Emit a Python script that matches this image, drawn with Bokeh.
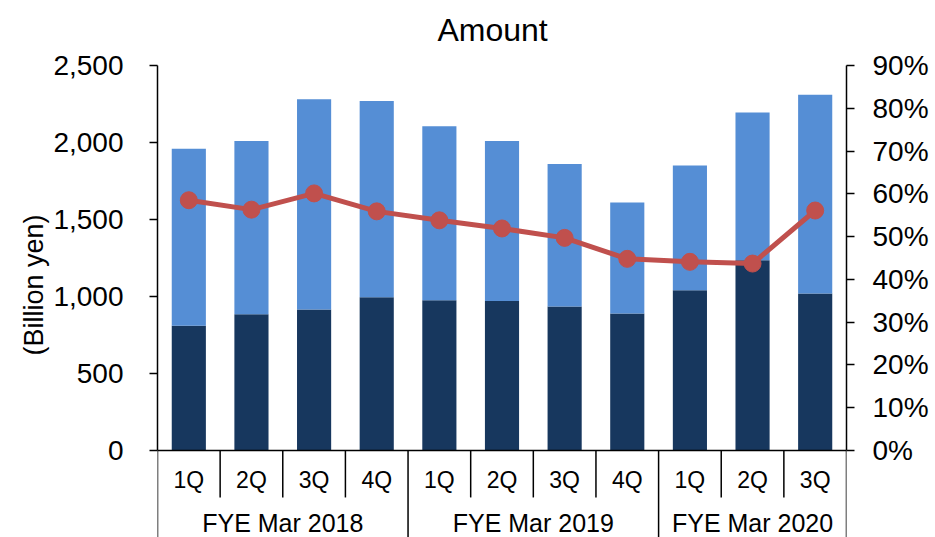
from bokeh.plotting import figure
from bokeh.models import (Range1d, LinearAxis, FixedTicker, NumeralTickFormatter,
                          PrintfTickFormatter, ColumnDataSource, Title)
from bokeh.core.properties import value
from bokeh.embed import file_html
from bokeh.resources import INLINE

# ---- data -----------------------------------------------------------------
quarters = ["1Q", "2Q", "3Q", "4Q", "1Q", "2Q", "3Q", "4Q", "1Q", "2Q", "3Q"]
fiscal_years = ["FYE Mar 2018", "FYE Mar 2019", "FYE Mar 2020"]
quarters_per_year = [4, 4, 3]

# billion yen, stacked: dark segment at the bottom, light segment on top
dark_amount = [810, 885, 915, 995, 975, 970, 935, 890, 1040, 1235, 1020]
light_amount = [1150, 1125, 1365, 1275, 1130, 1040, 925, 720, 810, 960, 1290]
# share in percent (right axis)
share_pct = [58.5, 56.3, 60.1, 55.9, 53.8, 51.9, 49.7, 44.8, 44.1, 43.7, 56.1]

amount_ticks = [0, 500, 1000, 1500, 2000, 2500]
share_ticks = [0, 10, 20, 30, 40, 50, 60, 70, 80, 90]

# ---- styling ----------------------------------------------------------------
FONT = "Liberation Sans"
DARK = "#17375E"
LIGHT = "#558ED5"
RED = "#C0504D"

AMOUNT_MAX = 2500
AMOUNT_TOP = 2922          # headroom above the axis for the chart title
AMOUNT_MIN = -565          # room below zero for the category labels
SHARE_MAX = 90
SHARE_TOP = AMOUNT_TOP / AMOUNT_MAX * SHARE_MAX
SHARE_MIN = AMOUNT_MIN / AMOUNT_MAX * SHARE_MAX

n = len(quarters)
xs = list(range(n))
totals = [d + l for d, l in zip(dark_amount, light_amount)]

src = ColumnDataSource(dict(x=xs, dark=dark_amount, light=light_amount,
                            total=totals, share=share_pct, q=quarters))

p = figure(width=935, height=537, output_backend="svg", toolbar_location=None,
           x_range=Range1d(-0.5, n - 0.5),
           y_range=Range1d(AMOUNT_MIN, AMOUNT_TOP),
           x_axis_location=None,
           min_border_left=157, min_border_right=89,
           min_border_top=0, min_border_bottom=0)
p.title.visible = False
p.outline_line_color = None
p.grid.visible = False
p.background_fill_color = "white"
p.border_fill_color = "white"


def style_axis(ax, standoff):
    ax.major_label_text_font = FONT
    ax.major_label_text_font_size = "28px"
    ax.major_label_text_color = "black"
    ax.axis_line_color = "black"
    ax.axis_line_width = 1.5
    ax.major_tick_line_color = "black"
    ax.major_tick_line_width = 1.5
    ax.major_tick_out = 8
    ax.major_tick_in = 0
    ax.minor_tick_line_color = None
    ax.major_label_standoff = standoff


# left axis
yax = p.yaxis[0]
yax.ticker = FixedTicker(ticks=amount_ticks)
yax.bounds = (0, AMOUNT_MAX)
yax.formatter = NumeralTickFormatter(format="0,0")
style_axis(yax, 26)

# unit caption beside the left axis, a little below the axis middle
p.add_layout(Title(text="(Billion yen)", align="left", offset=182, standoff=3,
                   text_font=FONT, text_font_size="27px", text_font_style="normal",
                   text_color="black"), "left")

# right axis
p.extra_y_ranges = {"share": Range1d(SHARE_MIN, SHARE_TOP)}
rax = LinearAxis(y_range_name="share", ticker=FixedTicker(ticks=share_ticks),
                 bounds=(0, SHARE_MAX), formatter=PrintfTickFormatter(format="%d%%"))
style_axis(rax, 18)
p.add_layout(rax, "right")

# chart title, in the headroom above the axes
p.text(x=[4.85], y=[2728], text=["Amount"],
       text_font=value(FONT), text_font_size="32px", text_color="black",
       text_align="center", text_baseline="alphabetic")

# stacked bars
BAR_W = 0.545
p.vbar(x="x", bottom=0, top="dark", width=BAR_W, source=src,
       fill_color=DARK, line_color=None)
p.vbar(x="x", bottom="dark", top="total", width=BAR_W, source=src,
       fill_color=LIGHT, line_color=None)

# share line with markers
p.line(x="x", y="share", source=src, y_range_name="share",
       line_color=RED, line_width=5)
p.scatter(x="x", y="share", source=src, y_range_name="share",
          size=17, fill_color=RED, line_color=RED, marker="circle")

# ---- category axis drawn below zero ---------------------------------------
QUARTER_LABEL_Y = -190
QUARTER_SEP_BOTTOM = -305
GROUP_LABEL_Y = -470

# baseline
p.segment(x0=[-0.5], y0=[0], x1=[n - 0.5], y1=[0],
          line_color="black", line_width=1.5)

# separators: full height between fiscal years, short between quarters
group_edges = [0]
for k in quarters_per_year:
    group_edges.append(group_edges[-1] + k)
sep_x, sep_bottom = [], []
for i in range(n + 1):
    sep_x.append(i - 0.5)
    sep_bottom.append(AMOUNT_MIN if i in group_edges else QUARTER_SEP_BOTTOM)
p.segment(x0=sep_x, y0=[0] * len(sep_x), x1=sep_x, y1=sep_bottom,
          line_color="black", line_width=1.5)

# quarter labels
p.text(x="x", y=QUARTER_LABEL_Y, text="q", source=src,
       text_font=value(FONT), text_font_size="23px", text_color="black",
       text_align="center", text_baseline="middle")

# fiscal-year labels
group_centers = [(group_edges[i] + group_edges[i + 1] - 1) / 2
                 for i in range(len(fiscal_years))]
p.text(x=group_centers, y=[GROUP_LABEL_Y] * len(group_centers), text=fiscal_years,
       text_font=value(FONT), text_font_size="25px", text_color="black",
       text_align="center", text_baseline="middle")

open("out.html", "w").write(file_html(p, INLINE))
